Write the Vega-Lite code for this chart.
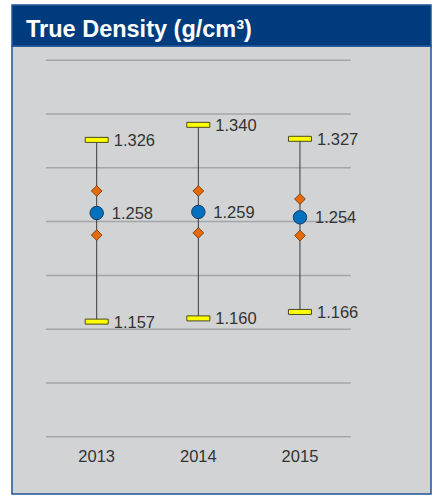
{
  "$schema": "https://vega.github.io/schema/vega-lite/v6.json",
  "autosize": "none",
  "width": 419,
  "height": 448,
  "padding": {"left": 12, "top": 46, "right": 2, "bottom": 2},
  "background": "white",
  "config": {
    "view": {"fill": "#d1d3d4", "stroke": "#1f5596", "strokeWidth": 1.5},
    "font": "Liberation Sans"
  },
  "title": {
    "text": "True Density (g/cm³)",
    "anchor": "start",
    "frame": "group",
    "orient": "top",
    "offset": -37,
    "dx": 14,
    "font": "Liberation Sans",
    "fontSize": 23.5,
    "fontWeight": "bold",
    "color": "white"
  },
  "datasets": {
    "stats": [
      {"year": 2013, "min": 1.157, "max": 1.326, "mean": 1.258, "lo": 1.2375, "hi": 1.2785},
      {"year": 2014, "min": 1.160, "max": 1.340, "mean": 1.259, "lo": 1.2395, "hi": 1.2785},
      {"year": 2015, "min": 1.166, "max": 1.327, "mean": 1.254, "lo": 1.237, "hi": 1.271}
    ],
    "grid": [
      {"v": 1.05}, {"v": 1.10}, {"v": 1.15}, {"v": 1.20},
      {"v": 1.25}, {"v": 1.30}, {"v": 1.35}, {"v": 1.40}
    ]
  },
  "layer": [
    {
      "data": {"values": [{"bar": "title"}]},
      "mark": {"type": "rect", "fill": "#003c7d", "stroke": "#1f5596", "strokeWidth": 1.5},
      "encoding": {
        "x": {"datum": 2012.1667, "type": "quantitative", "scale": {"domain": [2012.1667, 2016.289], "nice": false, "zero": false}, "axis": null},
        "x2": {"datum": 2016.289},
        "y": {"datum": 1.4514, "type": "quantitative", "scale": {"domain": [0.9967, 1.4133], "nice": false, "zero": false}, "axis": null},
        "y2": {"datum": 1.4133}
      }
    },
    {
      "data": {"name": "grid"},
      "mark": {"type": "rule", "stroke": "#a4a6a9", "strokeWidth": 1.5},
      "encoding": {
        "x": {"datum": 2012.5, "type": "quantitative"},
        "x2": {"datum": 2015.5},
        "y": {"field": "v", "type": "quantitative"}
      }
    },
    {
      "data": {"name": "stats"},
      "layer": [
        {
          "mark": {"type": "rule", "stroke": "#3a3a3a", "strokeWidth": 1},
          "encoding": {
            "x": {"field": "year", "type": "quantitative"},
            "y": {"field": "min", "type": "quantitative"},
            "y2": {"field": "max"}
          }
        },
        {
          "mark": {"type": "tick", "orient": "horizontal", "size": 23, "thickness": 5, "fill": "#ffff00", "color": "#ffff00", "stroke": "#4a4a20", "strokeWidth": 1, "opacity": 1},
          "encoding": {
            "x": {"field": "year", "type": "quantitative"},
            "y": {"field": "max", "type": "quantitative"}
          }
        },
        {
          "mark": {"type": "tick", "orient": "horizontal", "size": 23, "thickness": 5, "fill": "#ffff00", "color": "#ffff00", "stroke": "#4a4a20", "strokeWidth": 1, "opacity": 1},
          "encoding": {
            "x": {"field": "year", "type": "quantitative"},
            "y": {"field": "min", "type": "quantitative"}
          }
        },
        {
          "mark": {"type": "point", "shape": "diamond", "size": 115, "filled": true, "fill": "#e56b0a", "stroke": "#6b3300", "strokeWidth": 0.8, "opacity": 1},
          "encoding": {
            "x": {"field": "year", "type": "quantitative"},
            "y": {"field": "hi", "type": "quantitative"}
          }
        },
        {
          "mark": {"type": "point", "shape": "diamond", "size": 115, "filled": true, "fill": "#e56b0a", "stroke": "#6b3300", "strokeWidth": 0.8, "opacity": 1},
          "encoding": {
            "x": {"field": "year", "type": "quantitative"},
            "y": {"field": "lo", "type": "quantitative"}
          }
        },
        {
          "mark": {"type": "circle", "size": 180, "fill": "#0070c0", "stroke": "#1d3a5c", "strokeWidth": 1, "opacity": 1},
          "encoding": {
            "x": {"field": "year", "type": "quantitative"},
            "y": {"field": "mean", "type": "quantitative"}
          }
        },
        {
          "mark": {"type": "text", "align": "left", "baseline": "middle", "dx": 17, "dy": 1, "fontSize": 16.5, "fill": "#333333"},
          "encoding": {
            "x": {"field": "year", "type": "quantitative"},
            "y": {"field": "max", "type": "quantitative"},
            "text": {"field": "max", "type": "quantitative", "format": ".3f"}
          }
        },
        {
          "mark": {"type": "text", "align": "left", "baseline": "middle", "dx": 17, "dy": 1, "fontSize": 16.5, "fill": "#333333"},
          "encoding": {
            "x": {"field": "year", "type": "quantitative"},
            "y": {"field": "min", "type": "quantitative"},
            "text": {"field": "min", "type": "quantitative", "format": ".3f"}
          }
        },
        {
          "mark": {"type": "text", "align": "left", "baseline": "middle", "dx": 15, "dy": 1, "fontSize": 16.5, "fill": "#333333"},
          "encoding": {
            "x": {"field": "year", "type": "quantitative"},
            "y": {"field": "mean", "type": "quantitative"},
            "text": {"field": "mean", "type": "quantitative", "format": ".3f"}
          }
        },
        {
          "mark": {"type": "text", "align": "center", "baseline": "middle", "fontSize": 16.5, "fill": "#333333"},
          "encoding": {
            "x": {"field": "year", "type": "quantitative"},
            "y": {"datum": 1.0311, "type": "quantitative"},
            "text": {"field": "year", "type": "nominal"}
          }
        }
      ]
    }
  ]
}
